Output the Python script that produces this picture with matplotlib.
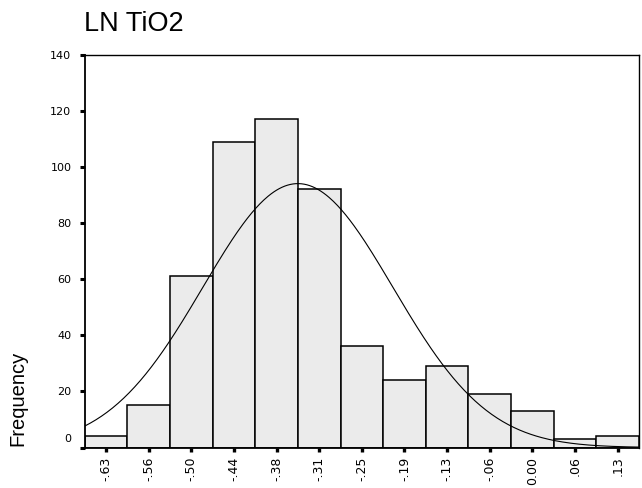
import numpy as np
import matplotlib
matplotlib.use("Agg")
import matplotlib.pyplot as plt
import matplotlib.transforms as mtransforms

# ---- data ----
bin_labels = ["-.63", "-.56", "-.50", "-.44", "-.38", "-.31", "-.25",
              "-.19", "-.13", "-.06", "0.00", ".06", ".13"]
bin_first_center = -0.63
bin_last_center = 0.13
counts = [4, 15, 61, 109, 117, 92, 36, 24, 29, 19, 13, 3, 4]
curve_mean = -0.345
curve_sd = 0.1413
y_ticks = [0, 20, 40, 60, 80, 100, 120, 140]
title = "LN TiO2"
ylabel = "Frequency"

n_bins = len(counts)
width = (bin_last_center - bin_first_center) / (n_bins - 1)
centers = np.linspace(bin_first_center, bin_last_center, n_bins)
N = sum(counts)

fig = plt.figure(figsize=(6.42, 4.88), dpi=100)
ax = fig.add_axes([84.7 / 642, 1 - 447.5 / 488, (639 - 84.7) / 642, (447.5 - 54.7) / 488])

ax.bar(centers, counts, width=width, color="#ebebeb", edgecolor="black",
       linewidth=1.1, zorder=2)

x0 = centers[0] - width / 2
x1 = centers[-1] + width / 2
xs = np.linspace(x0, x1, 400)
ys = N * width / (curve_sd * np.sqrt(2 * np.pi)) * np.exp(-0.5 * ((xs - curve_mean) / curve_sd) ** 2)
ax.plot(xs, ys, color="black", linewidth=0.8, zorder=3)

ax.set_xlim(x0, x1)
ax.set_ylim(0, 140)
ax.set_xticks(centers)
ax.set_xticklabels(bin_labels, rotation=90, fontsize=9)
ax.set_yticks(y_ticks)
ax.set_yticklabels([str(v) for v in y_ticks], fontsize=8)

ax.tick_params(axis="x", direction="out", length=3, width=2.4, pad=3.5, color="black")
ax.tick_params(axis="y", direction="out", length=3.6, width=2.2, pad=6, color="black")

for side in ["left", "bottom"]:
    ax.spines[side].set_linewidth(1.3)
for side in ["top", "right"]:
    ax.spines[side].set_linewidth(1.0)

# SPSS draws the "0" label raised above the axis corner
off = mtransforms.ScaledTranslation(0, 9 / 100, fig.dpi_scale_trans)
lbl0 = ax.get_yticklabels()[0]
lbl0.set_transform(lbl0.get_transform() + off)

fig.text(84 / 642, 1 - 30.7 / 488, title, fontsize=19.5, ha="left", va="baseline",
         family=["Liberation Sans", "DejaVu Sans"])
fig.text(18 / 642, 1 - 446 / 488, ylabel, fontsize=14.5, rotation=90,
         ha="center", va="bottom", family=["Liberation Sans", "DejaVu Sans"])

fig.savefig("out.png", dpi=100)
